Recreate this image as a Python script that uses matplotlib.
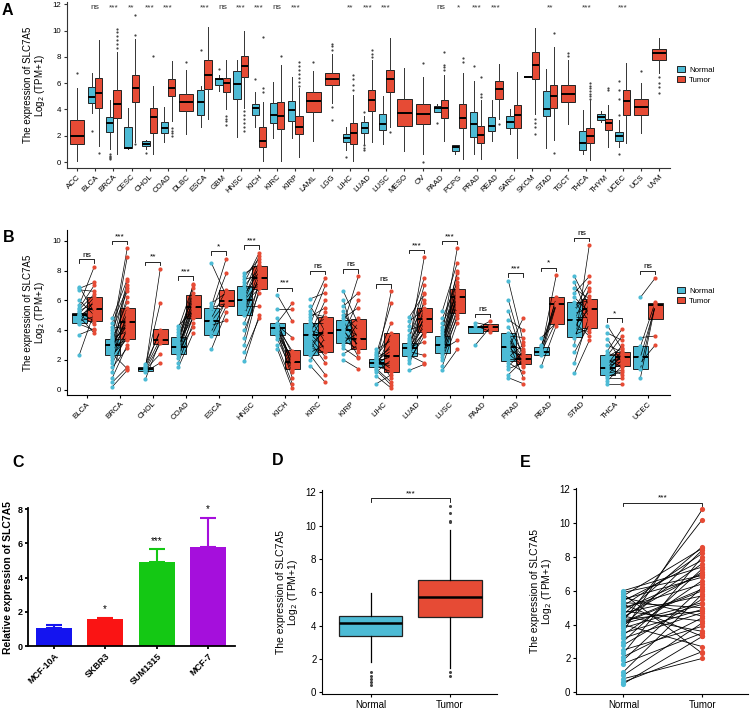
import matplotlib
matplotlib.use("Agg")
import matplotlib.pyplot as plt
from matplotlib.patches import Patch

plt.rcParams['font.family'] = ['Liberation Sans', 'DejaVu Sans']

BLUE = '#4DBBD5'
RED = '#E64B35'
YLAB = 'The expression of SLC7A5\nLog$_2$ (TPM+1)'

# ---------------- Panel A data ----------------
A_cancers = ['ACC', 'BLCA', 'BRCA', 'CESC', 'CHOL', 'COAD', 'DLBC', 'ESCA', 'GBM', 'HNSC', 'KICH',
             'KIRC', 'KIRP', 'LAML', 'LGG', 'LIHC', 'LUAD', 'LUSC', 'MESO', 'OV', 'PAAD', 'PCPG',
             'PRAD', 'READ', 'SARC', 'SKCM', 'STAD', 'TGCT', 'THCA', 'THYM', 'UCEC', 'UCS', 'UVM']
A_sig = {'BLCA': 'ns', 'BRCA': '***', 'CESC': '**', 'CHOL': '***', 'COAD': '***', 'ESCA': '***',
         'GBM': 'ns', 'HNSC': '***', 'KICH': '***', 'KIRC': 'ns', 'KIRP': '***', 'LIHC': '**',
         'LUAD': '***', 'LUSC': '***', 'PAAD': 'ns', 'PCPG': '*', 'PRAD': '***', 'READ': '***',
         'STAD': '**', 'THCA': '***', 'UCEC': '***'}
# (whisker low, q1, median, q3, whisker high)
A_normal_box = {
    'BLCA': (3.7, 4.5, 4.95, 5.7, 6.8), 'BRCA': (1.0, 2.3, 2.95, 3.4, 4.7),
    'CESC': (1.0, 1.05, 1.05, 2.7, 4.1), 'CHOL': (1.0, 1.25, 1.4, 1.6, 1.7),
    'COAD': (1.5, 2.25, 2.6, 3.05, 4.2), 'ESCA': (2.7, 3.6, 4.55, 5.45, 5.8),
    'GBM': (5.4, 5.9, 6.3, 6.35, 6.6), 'HNSC': (1.9, 4.8, 5.95, 6.9, 7.8),
    'KICH': (2.7, 3.6, 4.1, 4.45, 5.3), 'KIRC': (1.8, 3.0, 3.6, 4.5, 6.1),
    'KIRP': (1.8, 3.15, 3.95, 4.65, 6.5), 'LIHC': (0.9, 1.55, 1.8, 2.1, 2.7),
    'LUAD': (1.4, 2.25, 2.6, 3.05, 3.5), 'LUSC': (1.35, 2.47, 2.87, 3.64, 5.03),
    'PAAD': (3.81, 3.81, 4.12, 4.3, 4.45), 'PCPG': (0.58, 0.86, 1.14, 1.3, 1.3),
    'PRAD': (0.64, 1.93, 2.87, 3.84, 6.2), 'READ': (1.58, 2.34, 2.75, 3.46, 4.7),
    'SARC': (2.16, 2.62, 3.03, 3.53, 4.02), 'SKCM': (6.45, 6.45, 6.5, 6.55, 6.55),
    'STAD': (1.09, 3.51, 4.07, 5.39, 7.07), 'THCA': (0.58, 0.92, 1.45, 2.34, 3.99),
    'THYM': (3.05, 3.18, 3.43, 3.69, 3.89), 'UCEC': (1.14, 1.63, 1.98, 2.29, 3.18)}
A_normal_out = {
    'BLCA': [2.4], 'BRCA': [0.2, 0.3, 0.4, 0.5, 0.6], 'CHOL': [0.7], 'ESCA': [8.5], 'GBM': [7.05],
    'KICH': [6.3], 'LIHC': [0.4], 'LUAD': [0.9, 1.1, 1.3, 3.8], 'PAAD': [3.0], 'PRAD': [7.3],
    'UCEC': [0.58, 3.56, 4.78, 5.47, 6.15]}
A_tumor_box = {
    'ACC': (0.1, 1.4, 2.0, 3.2, 5.6), 'BLCA': (1.2, 4.1, 5.25, 6.4, 9.25),
    'BRCA': (0.6, 3.35, 4.45, 5.5, 8.4), 'CESC': (1.5, 4.6, 5.65, 6.65, 9.4),
    'CHOL': (0.65, 2.25, 3.4, 4.1, 5.8), 'COAD': (3.1, 5.0, 5.6, 6.3, 7.7),
    'DLBC': (2.1, 3.9, 4.6, 5.2, 7.0), 'ESCA': (3.3, 5.55, 6.65, 7.8, 10.3),
    'GBM': (4.0, 5.3, 6.0, 6.4, 7.8), 'HNSC': (4.1, 6.45, 7.3, 8.1, 10.0),
    'KICH': (0.1, 1.15, 1.6, 2.65, 4.6), 'KIRC': (0.05, 2.5, 3.5, 4.6, 7.4),
    'KIRP': (0.4, 2.1, 2.65, 3.5, 5.6), 'LAML': (1.6, 3.8, 4.65, 5.3, 6.9),
    'LGG': (4.5, 5.85, 6.3, 6.75, 8.2), 'LIHC': (0.1, 1.35, 2.2, 2.95, 5.1),
    'LUAD': (1.5, 3.9, 4.7, 5.45, 7.8), 'LUSC': (2.67, 5.34, 6.31, 7.02, 9.46),
    'MESO': (0.84, 2.72, 3.76, 4.78, 7.17), 'OV': (0.58, 2.87, 3.66, 4.42, 6.48),
    'PAAD': (1.6, 3.38, 4.12, 4.75, 6.61), 'PCPG': (0.25, 2.59, 3.36, 4.42, 6.81),
    'PRAD': (0.2, 1.47, 2.06, 2.77, 4.75), 'READ': (3.3, 4.83, 5.59, 6.2, 7.45),
    'SARC': (0.33, 2.62, 3.61, 4.37, 6.86), 'SKCM': (3.69, 6.33, 7.37, 8.34, 10.22),
    'STAD': (1.65, 4.14, 5.03, 5.85, 8.72), 'TGCT': (2.92, 4.58, 5.21, 5.9, 7.75),
    'THCA': (0.18, 1.45, 1.98, 2.59, 4.7), 'THYM': (1.14, 2.42, 2.95, 3.3, 4.32),
    'UCEC': (1.47, 3.61, 4.63, 5.52, 7.5), 'UCS': (2.21, 3.61, 4.2, 4.83, 5.98),
    'UVM': (6.79, 7.75, 8.31, 8.57, 9.41)}
A_tumor_out = {
    'ACC': [6.8], 'BLCA': [0.7], 'BRCA': [8.7, 9.0, 9.3, 9.6, 9.9, 10.1], 'CESC': [1.4, 9.7, 11.2],
    'CHOL': [8.1], 'COAD': [2.0, 2.2, 2.4, 2.6], 'DLBC': [7.6], 'GBM': [2.8, 3.1, 3.3, 3.5],
    'HNSC': [2.4, 2.7, 3.0, 3.3, 3.6, 3.9], 'KICH': [5.3, 5.6, 9.55], 'KIRC': [8.1],
    'KIRP': [5.8, 6.1, 6.4, 6.7, 7.0, 7.3, 7.6], 'LAML': [7.6], 'LGG': [3.2, 4.2, 8.5, 8.8, 9.0],
    'LIHC': [5.5, 5.9, 6.3, 6.6], 'LUAD': [8.0, 8.2, 8.5], 'LUSC': [2.3], 'OV': [7.5, 0.03],
    'PAAD': [7.04, 7.2, 7.37, 8.39], 'PCPG': [7.6, 7.9], 'PRAD': [4.96, 5.2, 6.48], 'READ': [2.87],
    'SKCM': [3.3, 3.0, 2.7, 2.1], 'STAD': [9.79, 0.69], 'TGCT': [8.06, 8.3],
    'THCA': [4.8, 5.0, 5.2, 5.4, 5.6, 5.8, 6.0], 'THYM': [5.5, 5.6], 'UCS': [6.94],
    'UVM': [5.26, 5.72, 6.0, 6.48]}

# ---------------- Panel B data ----------------
B_cancers = ['BLCA', 'BRCA', 'CHOL', 'COAD', 'ESCA', 'HNSC', 'KICH', 'KIRC', 'KIRP', 'LIHC',
             'LUAD', 'LUSC', 'PAAD', 'PRAD', 'READ', 'STAD', 'THCA', 'UCEC']
B_sig = ['ns', '***', '**', '***', '*', '***', '***', 'ns', 'ns', 'ns', '***', '***', 'ns',
         '***', '*', 'ns', '*', 'ns']
# (q1, median, q3)
B_normal_box = {
    'BLCA': (4.5, 4.99, 5.12), 'BRCA': (2.33, 3.0, 3.4), 'CHOL': (1.25, 1.39, 1.54),
    'COAD': (2.37, 2.89, 3.51), 'ESCA': (3.65, 4.61, 5.46), 'HNSC': (5.01, 6.02, 6.96),
    'KICH': (3.67, 4.16, 4.45), 'KIRC': (2.33, 3.65, 4.45), 'KIRP': (3.15, 4.0, 4.68),
    'LIHC': (1.54, 1.81, 2.06), 'LUAD': (2.28, 2.82, 3.15), 'LUSC': (2.44, 3.0, 3.6),
    'PAAD': (3.78, 4.18, 4.27), 'PRAD': (1.92, 2.89, 3.78), 'READ': (2.33, 2.55, 2.89),
    'STAD': (3.56, 4.68, 5.9), 'THCA': (0.98, 1.45, 2.33), 'UCEC': (1.39, 2.21, 2.93)}
B_tumor_box = {
    'BLCA': (4.59, 5.41, 6.22), 'BRCA': (3.4, 4.52, 5.46), 'CHOL': (3.06, 3.33, 4.07),
    'COAD': (4.79, 5.53, 6.33), 'ESCA': (5.64, 5.95, 6.69), 'HNSC': (6.76, 7.52, 8.32),
    'KICH': (1.39, 1.83, 2.66), 'KIRC': (2.53, 3.78, 4.88), 'KIRP': (2.73, 3.38, 4.77),
    'LIHC': (1.21, 2.24, 3.78), 'LUAD': (3.85, 4.72, 5.46), 'LUSC': (5.17, 6.22, 6.78),
    'PAAD': (3.94, 4.23, 4.41), 'PRAD': (1.7, 2.04, 2.39), 'READ': (4.38, 5.75, 6.2),
    'STAD': (4.12, 5.41, 6.1), 'THCA': (1.59, 2.21, 2.5), 'UCEC': (4.72, 5.68, 5.79)}
B_normal_pts = {
    'BLCA': [6.9, 6.8, 6.7, 6.0, 5.7, 5.5, 5.3, 5.2, 5.1, 5.0, 5.0, 4.9, 4.8, 4.6, 4.5, 4.4, 3.7, 2.35, 5.4],
    'BRCA': [0.2, 0.5, 0.8, 1.2, 1.5, 1.8, 2.0, 2.2, 2.35, 2.5, 2.6, 2.7, 2.8, 2.9, 3.0, 3.0, 3.05, 3.1,
             3.2, 3.3, 3.4, 3.5, 3.6, 3.8, 4.0, 4.2, 4.5, 4.8, 2.4, 2.9],
    'CHOL': [0.7, 1.2, 1.3, 1.35, 1.4, 1.45, 1.5, 1.6, 1.7],
    'COAD': [1.5, 1.8, 2.1, 2.3, 2.4, 2.5, 2.6, 2.7, 2.8, 2.85, 2.9, 3.0, 3.1, 3.2, 3.4, 3.5, 3.7, 3.9, 4.1, 4.3],
    'ESCA': [2.7, 3.6, 3.9, 4.3, 4.6, 4.8, 5.2, 5.5, 5.8, 5.6, 8.5],
    'HNSC': [1.9, 2.5, 3.0, 3.5, 4.0, 4.5, 5.0, 5.2, 5.5, 5.8, 6.0, 6.0, 6.2, 6.4, 6.6, 6.8, 7.0, 7.2,
             7.4, 7.6, 7.8, 5.6],
    'KICH': [2.7, 3.0, 3.4, 3.7, 3.8, 3.9, 4.0, 4.1, 4.15, 4.2, 4.3, 4.4, 4.5, 4.8, 5.4, 6.35, 3.6],
    'KIRC': [1.6, 2.0, 2.3, 2.5, 2.8, 3.0, 3.2, 3.4, 3.6, 3.7, 3.8, 4.0, 4.1, 4.2, 4.4, 4.5, 4.7, 4.9,
             5.1, 5.3, 5.6, 6.1, 3.5, 2.7],
    'KIRP': [2.0, 2.4, 2.8, 3.0, 3.3, 3.5, 3.7, 3.9, 4.0, 4.1, 4.2, 4.4, 4.6, 4.8, 5.0, 5.3, 5.6, 6.0, 6.6, 3.2],
    'LIHC': [0.4, 0.9, 1.2, 1.4, 1.5, 1.6, 1.7, 1.75, 1.8, 1.85, 1.9, 2.0, 2.05, 2.1, 2.2, 2.3, 2.4, 2.5,
             2.7, 1.65, 1.95, 1.3],
    'LUAD': [1.3, 1.8, 2.0, 2.2, 2.3, 2.4, 2.5, 2.6, 2.7, 2.8, 2.85, 2.9, 3.0, 3.1, 3.2, 3.3, 3.5, 3.7,
             4.0, 4.3, 4.6, 4.9, 2.75, 2.55],
    'LUSC': [1.3, 1.6, 2.0, 2.2, 2.4, 2.5, 2.6, 2.8, 2.9, 3.0, 3.0, 3.1, 3.2, 3.3, 3.5, 3.6, 3.8, 4.0,
             4.2, 4.5, 4.8, 5.3, 2.7, 3.4],
    'PAAD': [3.0, 4.1, 4.3, 4.5],
    'PRAD': [0.8, 1.0, 1.4, 1.6, 1.8, 2.0, 2.2, 2.4, 2.6, 2.8, 2.9, 3.0, 3.2, 3.4, 3.6, 3.8, 4.2, 4.7,
             5.3, 6.0, 7.3, 3.5],
    'READ': [1.6, 2.3, 2.5, 2.55, 2.6, 2.7, 2.9, 3.0, 3.5],
    'STAD': [1.1, 1.8, 2.5, 3.0, 3.5, 3.7, 4.0, 4.3, 4.5, 4.7, 4.9, 5.1, 5.4, 5.7, 5.9, 6.2, 6.5, 6.8,
             7.2, 7.6, 4.1, 5.3],
    'THCA': [0.4, 0.6, 0.8, 1.0, 1.1, 1.2, 1.3, 1.4, 1.45, 1.5, 1.6, 1.7, 1.8, 2.0, 2.2, 2.3, 2.4, 2.6,
             3.0, 3.4, 3.8, 4.3, 0.9, 1.9],
    'UCEC': [0.8, 1.4, 1.8, 2.2, 2.9, 3.5, 6.2]}
B_tumor_pts = {
    'BLCA': [5.2, 7.2, 6.6, 5.0, 8.25, 7.0, 5.8, 4.6, 6.2, 5.5, 4.4, 3.8, 5.9, 4.9, 6.0, 4.0, 4.1, 5.2, 6.4],
    'BRCA': [1.3, 1.5, 3.0, 4.2, 2.8, 3.6, 5.2, 4.0, 3.4, 7.0, 4.5, 3.5, 5.5, 4.8, 6.2, 3.3, 4.6, 7.3,
             4.4, 5.9, 8.9, 3.9, 5.0, 9.5, 6.6, 4.1, 6.8, 7.4, 1.4, 4.3],
    'CHOL': [3.3, 1.8, 3.1, 2.4, 8.1, 3.4, 4.0, 5.8, 3.9],
    'COAD': [3.8, 4.5, 5.0, 4.9, 5.5, 6.3, 4.2, 5.7, 6.0, 5.2, 6.8, 5.4, 7.1, 4.8, 6.5, 5.6, 5.9, 6.2, 7.0, 5.3],
    'ESCA': [5.2, 5.6, 6.0, 4.65, 5.9, 6.7, 7.8, 5.8, 6.5, 8.8, 6.3],
    'HNSC': [5.0, 4.8, 6.8, 7.3, 6.5, 7.0, 7.6, 8.0, 7.5, 6.8, 8.3, 7.2, 8.6, 7.9, 9.0, 6.9, 8.1, 9.2,
             7.7, 8.8, 8.4, 5.6],
    'KICH': [0.1, 0.4, 1.2, 1.4, 0.8, 1.7, 2.0, 1.6, 2.6, 1.9, 3.5, 2.4, 5.8, 1.3, 5.4, 4.6, 2.2],
    'KIRC': [0.5, 3.5, 1.0, 3.0, 2.5, 4.0, 1.8, 5.2, 3.8, 2.8, 6.0, 3.6, 4.8, 2.6, 7.0, 4.5, 3.2, 5.5,
             4.9, 7.5, 3.9, 6.5, 2.2, 4.2],
    'KIRP': [1.4, 3.0, 2.1, 4.5, 2.7, 3.3, 6.0, 3.0, 4.8, 2.2, 3.6, 7.6, 2.9, 5.5, 4.0, 3.4, 6.5, 2.5, 4.4, 3.8],
    'LIHC': [1.0, 0.1, 2.0, 0.5, 3.8, 1.2, 2.4, 6.6, 1.6, 3.0, 2.2, 4.5, 1.4, 2.8, 0.8, 3.5, 5.8, 2.1,
             3.3, 1.8, 2.6, 0.3],
    'LUAD': [1.7, 4.0, 3.6, 5.0, 1.8, 4.5, 3.9, 5.5, 4.8, 6.0, 3.2, 4.2, 6.5, 5.2, 8.9, 4.7, 7.0, 5.8,
             4.4, 7.5, 5.4, 6.4, 3.8, 2.3],
    'LUSC': [2.7, 4.5, 5.0, 5.5, 6.0, 4.8, 6.5, 5.2, 7.0, 6.2, 5.8, 7.5, 6.4, 8.0, 6.8, 5.6, 9.5, 6.6,
             7.8, 6.3, 7.2, 8.5, 3.3, 6.1],
    'PAAD': [4.2, 4.6, 3.9, 4.3],
    'PRAD': [0.4, 2.0, 1.8, 2.5, 1.2, 2.1, 3.0, 1.6, 2.3, 4.8, 1.9, 2.7, 0.8, 2.2, 3.5, 1.7, 2.4, 4.0,
             2.0, 2.6, 3.2, 1.5],
    'READ': [4.3, 5.7, 6.2, 4.6, 5.8, 7.7, 6.1, 5.75, 4.5],
    'STAD': [3.3, 5.0, 4.4, 9.7, 5.8, 4.1, 6.3, 5.4, 3.6, 6.8, 4.9, 5.5, 7.2, 6.0, 4.6, 5.2, 7.6, 6.1,
             4.8, 5.6, 3.9, 6.6],
    'THCA': [0.4, 1.6, 0.8, 2.0, 1.3, 2.4, 1.7, 2.2, 1.0, 2.6, 1.9, 3.0, 2.1, 1.5, 2.8, 3.6, 2.3, 4.1,
             2.5, 1.8, 3.3, 2.7, 1.2, 2.15],
    'UCEC': [5.7, 5.8, 3.0, 5.6, 5.9, 3.6, 7.5]}

# ---------------- Panel C data ----------------
C_lines = ['MCF-10A', 'SKBR3', 'SUM1315', 'MCF-7']
C_values = [1.05, 1.6, 4.94, 5.78]
C_errors = [0.2, 0.05, 0.72, 1.73]
C_sig = ['', '*', '***', '*']
C_colors = ['#1414F0', '#FA1414', '#14C814', '#A50FDC']

# ---------------- Panel D data ----------------
D_groups = ['Normal', 'Tumor']
D_normal_box = (1.8, 3.4, 4.14, 4.58, 5.94)
D_normal_out = [0.45, 0.6, 0.8, 1.0, 1.2]
D_tumor_box = (1.44, 4.54, 5.7, 6.74, 9.75)
D_tumor_out = [0.98, 1.2, 10.25, 10.3, 10.75, 11.2]

# ---------------- Panel E data ----------------
E_normal = [0.5, 0.6, 0.8, 1.0, 1.2, 1.7, 1.9, 2.1, 2.3, 2.5, 2.8, 3.0, 3.2, 3.4, 3.6, 3.8, 3.9, 4.0,
            4.1, 4.2, 4.3, 4.4, 4.5, 4.6, 4.7, 4.8, 4.9, 5.0, 5.1, 5.2, 5.3, 5.4, 5.5, 5.6, 5.7, 5.8,
            5.9, 6.0, 4.05, 4.15, 3.5, 4.45]
E_tumor = [3.3, 2.4, 2.0, 4.1, 5.8, 3.5, 6.2, 4.4, 8.0, 3.9, 5.5, 7.3, 4.7, 6.6, 10.8, 5.2, 8.4, 2.7,
           6.0, 10.2, 4.8, 7.6, 3.6, 8.6, 5.7, 4.2, 7.0, 6.4, 8.2, 3.3, 5.0, 7.8, 6.8, 4.5, 8.5, 2.3,
           6.9, 7.4, 5.3, 6.1, 4.9, 7.1]

W, H = 753, 711
fig = plt.figure(figsize=(W / 100, H / 100), dpi=100)


def fr(x0, y_top, x1, y_bot):
    return [x0 / W, 1 - y_bot / H, (x1 - x0) / W, (y_bot - y_top) / H]


def style(ax, lw=0.8, color='black', tsize=5.7):
    for s in ['top', 'right']:
        ax.spines[s].set_visible(False)
    for s in ['left', 'bottom']:
        ax.spines[s].set_linewidth(lw)
        ax.spines[s].set_color(color)
    ax.tick_params(width=lw, length=2.5, labelsize=tsize, color=color, pad=1.5)


def stat(t, fl=()):
    lo, q1, med, q3, hi = t
    return dict(whislo=lo, q1=q1, med=med, q3=q3, whishi=hi, fliers=list(fl))


def draw_boxes(ax, stats, positions, width, color, lw=0.7, medlw=1.4, flsize=1.6, wcolor='#333333'):
    ax.bxp(stats, positions=positions, widths=width, patch_artist=True, showcaps=False,
           boxprops=dict(facecolor=color, edgecolor='#222222', linewidth=lw),
           medianprops=dict(color='black', linewidth=medlw),
           whiskerprops=dict(color=wcolor, linewidth=lw),
           flierprops=dict(marker='o', markersize=flsize, markerfacecolor='#444444',
                           markeredgecolor='none'))


# ---------------- Panel A ----------------
axA = fig.add_axes(fr(67, 1.7, 670, 168))
style(axA, color='#333333')
for i, c in enumerate(A_cancers):
    if c in A_normal_box:
        draw_boxes(axA, [stat(A_normal_box[c], A_normal_out.get(c, []))], [i - 0.2], 0.4, BLUE)
        draw_boxes(axA, [stat(A_tumor_box[c], A_tumor_out.get(c, []))], [i + 0.2], 0.4, RED)
    else:
        draw_boxes(axA, [stat(A_tumor_box[c], A_tumor_out.get(c, []))], [i], 0.78, RED)
    if c in A_sig:
        axA.text(i, 11.75, A_sig[c], ha='center', va='center', fontsize=6, color='#333333')
axA.set_xlim(-0.55, 32.6)
axA.set_ylim(-0.45, 12.2)
axA.set_yticks(range(0, 13, 2))
axA.set_xticks(range(len(A_cancers)))
axA.set_xticklabels(A_cancers, rotation=45, ha='right', rotation_mode='anchor')
axA.set_ylabel(YLAB, fontsize=7, linespacing=1.0, labelpad=4)
handles = [Patch(facecolor=BLUE, edgecolor='#222222', lw=0.7),
           Patch(facecolor=RED, edgecolor='#222222', lw=0.7)]
axA.legend(handles, ['Normal', 'Tumor'], loc='center left', bbox_to_anchor=(1.0, 0.56),
           frameon=False, fontsize=5.7, handlelength=1.0, handleheight=0.8, labelspacing=0.3,
           handletextpad=0.5)

# ---------------- Panel B ----------------
axB = fig.add_axes(fr(67, 230, 670, 395))
style(axB)
off = 0.225
for i, c in enumerate(B_cancers):
    qn = B_normal_box[c]
    qt = B_tumor_box[c]
    draw_boxes(axB, [stat((qn[0], qn[0], qn[1], qn[2], qn[2]))], [i - off], 0.45, BLUE)
    draw_boxes(axB, [stat((qt[0], qt[0], qt[1], qt[2], qt[2]))], [i + off], 0.45, RED)
    npts = B_normal_pts[c]
    tpts = B_tumor_pts[c]
    for a, b in zip(npts, tpts):
        axB.plot([i - off, i + off], [a, b], color='black', lw=0.5, zorder=4)
    axB.scatter([i - off] * len(npts), npts, s=9, color=BLUE, zorder=5, linewidths=0)
    axB.scatter([i + off] * len(tpts), tpts, s=9, color=RED, zorder=5, linewidths=0)
    top = max(npts + tpts) + 0.5
    axB.plot([i - off, i - off, i + off, i + off], [top - 0.25, top, top, top - 0.25],
             color='black', lw=0.6)
    axB.text(i, top + 0.05, B_sig[i], ha='center', va='bottom', fontsize=6)
axB.set_xlim(-0.6, 17.67)
axB.set_ylim(-0.36, 10.72)
axB.set_yticks(range(0, 11, 2))
axB.set_xticks(range(len(B_cancers)))
axB.set_xticklabels(B_cancers, rotation=45, ha='right', rotation_mode='anchor')
axB.set_ylabel(YLAB, fontsize=7, linespacing=1.0, labelpad=4)
axB.legend(handles, ['Normal', 'Tumor'], loc='center left', bbox_to_anchor=(1.0, 0.6),
           frameon=False, fontsize=5.7, handlelength=1.0, handleheight=0.8, labelspacing=0.3,
           handletextpad=0.5)

# ---------------- Panel C ----------------
axC = fig.add_axes(fr(28, 508.3, 235, 646))
style(axC, lw=1.3, tsize=6.5)
xs = list(range(len(C_lines)))
axC.bar(xs, C_values, width=0.7, color=C_colors, zorder=2)
for x, v, e, col, s in zip(xs, C_values, C_errors, C_colors, C_sig):
    axC.errorbar([x], [v], yerr=[[0], [e]], fmt='none', ecolor=col, elinewidth=1.5, capsize=6,
                 capthick=1.5, zorder=1)
    if s:
        axC.text(x, v + e + 0.2, s, ha='center', va='bottom', fontsize=7, clip_on=False)
axC.set_xlim(-0.5, 3.52)
axC.set_ylim(0, 8.06)
axC.set_yticks(range(0, 9, 2))
axC.set_xticks(xs)
axC.set_xticklabels(C_lines, rotation=45, ha='right', rotation_mode='anchor', fontweight='bold')
for t in axC.get_yticklabels():
    t.set_fontweight('bold')
axC.set_ylabel('Relative expression of SLC7A5', fontsize=7.5, fontweight='bold', labelpad=3)

# ---------------- Panel D ----------------
axD = fig.add_axes(fr(322, 490, 497, 694))
style(axD, tsize=7)
draw_boxes(axD, [stat(D_normal_box, D_normal_out)], [1], 0.8, BLUE, lw=0.9, medlw=1.8, flsize=2.2,
           wcolor='black')
draw_boxes(axD, [stat(D_tumor_box, D_tumor_out)], [2], 0.8, RED, lw=0.9, medlw=1.8, flsize=2.2,
           wcolor='black')
topD = max(D_normal_out + D_tumor_out) + 0.45
axD.plot([1, 1, 2, 2], [topD - 0.25, topD, topD, topD - 0.25], color='black', lw=0.6)
axD.text(1.5, topD + 0.05, '***', ha='center', va='bottom', fontsize=6)
axD.set_xlim(0.39, 2.59)
axD.set_ylim(-0.1, 12.15)
axD.set_yticks(range(0, 13, 2))
axD.set_xticks([1, 2])
axD.set_xticklabels(D_groups)
axD.set_ylabel(YLAB, fontsize=7.5, linespacing=1.0, labelpad=4)

# ---------------- Panel E ----------------
axE = fig.add_axes(fr(576, 488.3, 748, 694))
style(axE, tsize=7)
for a, b in zip(E_normal, E_tumor):
    axE.plot([1, 2], [a, b], color='black', lw=0.6, zorder=2)
axE.scatter([1] * len(E_normal), E_normal, s=14, color=BLUE, zorder=3, linewidths=0)
axE.scatter([2] * len(E_tumor), E_tumor, s=14, color=RED, zorder=3, linewidths=0)
topE = max(E_normal + E_tumor) + 0.4
axE.plot([1, 1, 2, 2], [topE - 0.2, topE, topE, topE - 0.2], color='black', lw=0.6)
axE.text(1.5, topE + 0.05, '***', ha='center', va='bottom', fontsize=6)
axE.set_xlim(0.4, 2.58)
axE.set_ylim(-0.1, 12.05)
axE.set_yticks(range(0, 13, 2))
axE.set_xticks([1, 2])
axE.set_xticklabels(D_groups)
axE.set_ylabel(YLAB, fontsize=7.5, linespacing=1.0, labelpad=4)

# ---------------- Panel letters ----------------
for lab, x, y in [('A', 2, 3), ('B', 3, 230), ('C', 12, 455), ('D', 272, 453), ('E', 520, 455)]:
    fig.text(x / W, 1 - y / H, lab, fontsize=11.5, fontweight='bold', va='top', ha='left')

fig.savefig('out.png', dpi=100)
